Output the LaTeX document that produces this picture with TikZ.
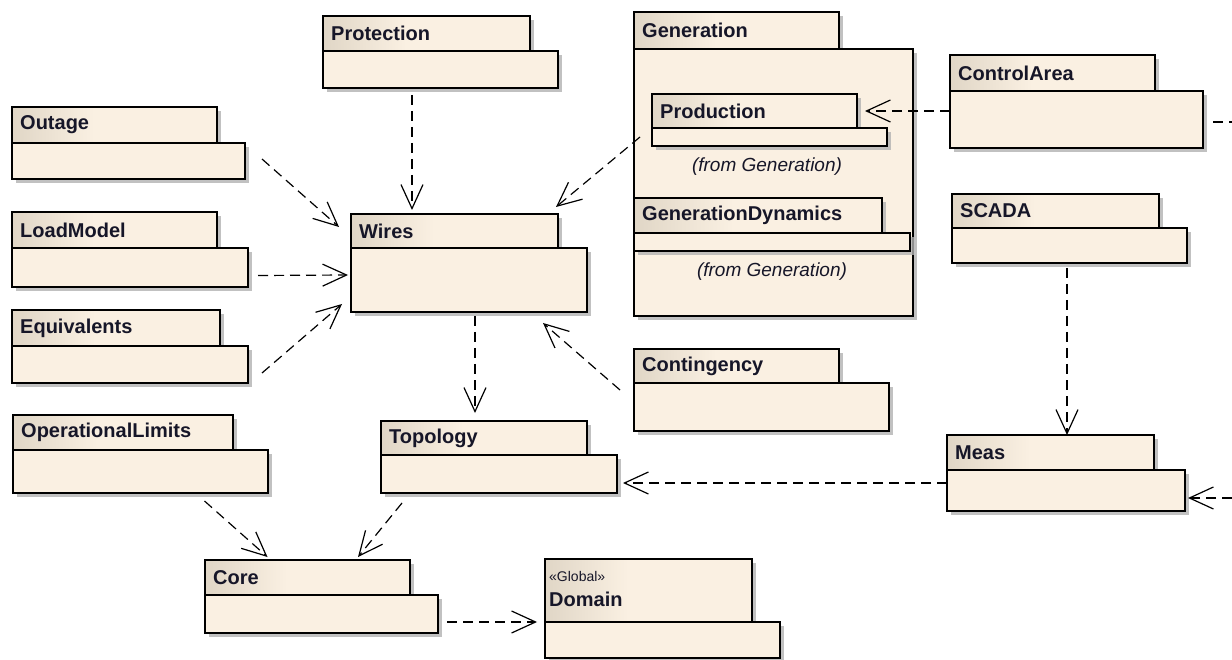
\documentclass[tikz,border=0pt]{standalone}
\usepackage{fontspec}
\setmainfont{Liberation Sans}
\usetikzlibrary{arrows.meta,shadows}
\definecolor{cream}{RGB}{250,240,226}
\definecolor{tabL}{RGB}{224,214,198}
\definecolor{ink}{RGB}{22,22,40}
\pgfdeclarehorizontalshading{tabshade}{100bp}{color(0bp)=(tabL); color(25bp)=(tabL); color(45bp)=(cream); color(100bp)=(cream)}
\tikzset{
  pkgpart/.style={draw=black, line width=1.3pt, inner sep=0pt, outer sep=0pt, anchor=north west,
    drop shadow={shadow xshift=4pt, shadow yshift=-4pt, fill=black!30, opacity=0.8}},
  pkgtab/.style={pkgpart, shade, shading=tabshade},
  pkgbody/.style={pkgpart, fill=cream},
  pkglabel/.style={anchor=west, inner sep=0pt, text=ink, font=\bfseries\fontsize{20}{22}\selectfont},
  fromlabel/.style={inner sep=0pt, text=ink, font=\itshape\fontsize{19}{21}\selectfont},
  deppath/.style={draw=black, line width=1.2pt, dash pattern=on 10pt off 6pt},
  dep/.style={deppath, -{Straight Barb[length=24pt,width=22pt]}},
}
% name, x1, y1(tab top), tab x2, tab bottom, body x2, body bottom, label
\newcommand\umlpkg[8]{%
  \node[pkgtab, minimum width={#4-#2}, minimum height={#5-#3}] (#1-tab) at (#2,#3) {};
  \node[pkgbody, minimum width={#6-#2}, minimum height={#7-#5}] (#1) at (#2,#5) {};
  \node[pkglabel] (#1-lbl) at (#2+8,{(#3+#5)/2}) {#8};
}
\begin{document}
\begin{tikzpicture}[x=1pt,y=-1pt]
\useasboundingbox (0,0) rectangle (1232,660);
\fill[white] (0,0) rectangle (1232,660);

\umlpkg{protection}{323}{16}{530}{51}{558}{88}{Protection}
\umlpkg{outage}{12}{107}{217}{143}{245}{179}{Outage}
\umlpkg{loadmodel}{12}{212}{217}{248}{248}{287}{LoadModel}
\umlpkg{equivalents}{12}{310}{220}{346}{248}{383}{Equivalents}
\umlpkg{opl}{13}{415}{233}{450}{268}{493}{OperationalLimits}
\umlpkg{wires}{351}{214}{558}{248}{587}{312}{Wires}
\umlpkg{topology}{381}{421}{587}{455}{617}{493}{Topology}
\umlpkg{contingency}{634}{349}{839}{383}{889}{431}{Contingency}
\umlpkg{core}{205}{560}{410}{595}{438}{633}{Core}
\umlpkg{domain}{545}{559}{752}{622}{780}{658}{}
\node[anchor=west, inner sep=0pt, text=ink, font=\fontsize{14}{16}\selectfont] (domain-st) at (549,576) {«Global»};
\node[pkglabel] (domain-lbl) at (549,599) {Domain};

\umlpkg{generation}{634}{12}{839}{49}{913}{316}{Generation}
\umlpkg{production}{652}{94}{857}{128}{887}{146}{Production}
\node[fromlabel] (production-from) at (767,167) {(from Generation)};
\umlpkg{gendyn}{634}{198}{882}{233}{910}{251}{GenerationDynamics}
\node[fromlabel] (gendyn-from) at (772,272) {(from Generation)};

\umlpkg{controlarea}{950}{55}{1155}{91}{1203}{148}{ControlArea}
\umlpkg{scada}{952}{194}{1159}{228}{1187}{263}{SCADA}
\umlpkg{meas}{947}{435}{1154}{470}{1185}{511}{Meas}

\coordinate (caout) at (1232,122);
\coordinate (measin) at (1232,498);

% dependencies
\draw[dep] ([xshift=17pt,yshift=2pt]outage.east) -- ([xshift=-12pt,yshift=4pt]wires-tab.west);
\draw[dep] ([xshift=-28.5pt,yshift=-7pt]protection.south) -- ([xshift=-42.5pt,yshift=4pt]wires-tab.north);
\draw[dep] ([xshift=10pt,yshift=-8pt]loadmodel.east) -- ([xshift=-3pt,yshift=5pt]wires.west);
\draw[dep] ([xshift=14pt,yshift=-8.5pt]equivalents.east) -- ([xshift=-9pt,yshift=-24pt]wires.west);
\draw[dep] ([xshift=-12pt]production.west) -- ([xshift=-2pt,yshift=7pt]wires-tab.north east);
\draw[dep] ([xshift=-14pt,yshift=-7pt]contingency-tab.south west) -- ([xshift=-44pt,yshift=-11pt]wires.south east);
\draw[dep] ([xshift=6pt,yshift=-4pt]wires.south) -- ([xshift=-9pt,yshift=8pt]topology-tab.north);
\draw[dep] (controlarea.west |- production-tab.east) -- ([xshift=8pt]production-tab.east);
\draw[deppath] ([xshift=10pt]controlarea.east |- caout) -- (caout);
\draw[dep] ([xshift=-2.5pt,yshift=-5pt]scada.south) -- ([xshift=-2.5pt]scada.south |- meas-tab.north);
\draw[dep] ([yshift=7.5pt]meas.west) -- ([xshift=6pt,yshift=-9pt]topology.east);
\draw[dep] (measin) -- ([xshift=3pt,yshift=-7.5pt]meas.east);
\draw[dep] ([xshift=64pt,yshift=-8pt]opl.south) -- ([xshift=-40pt,yshift=3pt]core-tab.north);
\draw[dep] ([xshift=21pt,yshift=-10pt]topology.south west) -- ([xshift=-52pt,yshift=3pt]core-tab.north east);
\draw[dep] ([xshift=9pt,yshift=-8pt]core.east) -- ([xshift=-8pt]domain-tab.south west);
\end{tikzpicture}
\end{document}
